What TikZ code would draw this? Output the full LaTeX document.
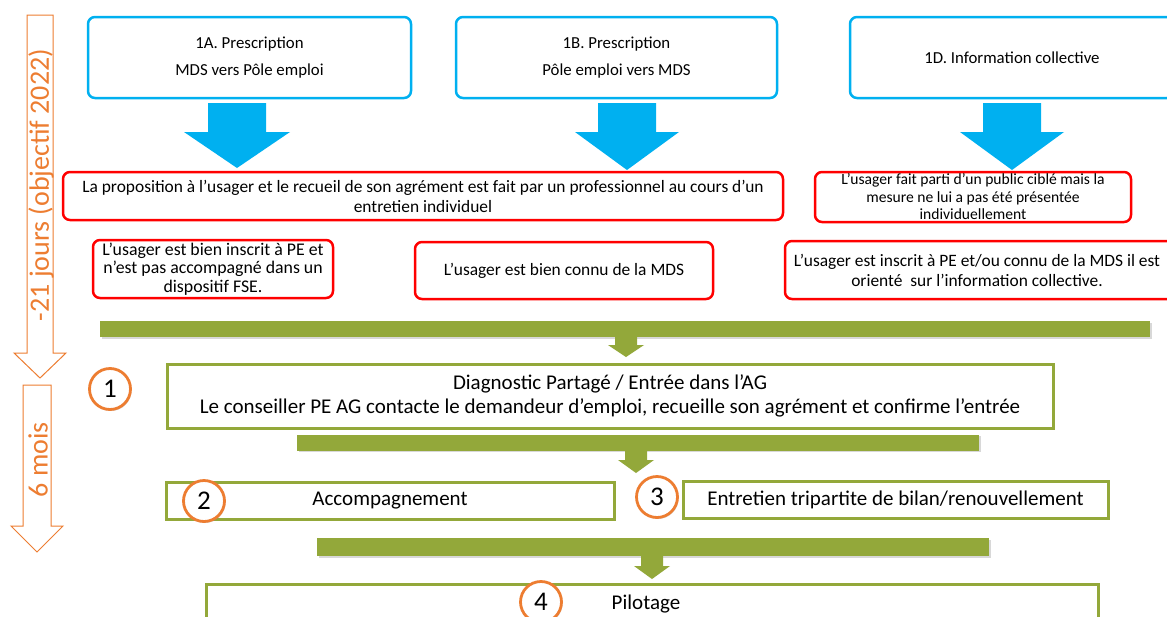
\documentclass[tikz,border=0pt]{standalone}
\usepackage{fontspec}
\setmainfont{Carlito}
\usetikzlibrary{shadows}
\definecolor{ablue}{HTML}{00B0F0}
\definecolor{ared}{HTML}{FF0000}
\definecolor{aorange}{HTML}{ED7D31}
\definecolor{agreen}{HTML}{93A83A}
\begin{document}
\begin{tikzpicture}[x=1pt,y=-1pt,
  bluebox/.style={draw=ablue, line width=2.5pt, rounded corners=7pt, fill=white, align=center, inner sep=0pt},
  redbox/.style={draw=ared, line width=2.5pt, rounded corners=7pt, fill=white, align=center, inner sep=0pt},
  greenbox/.style={draw=agreen, line width=3pt, fill=white, align=center, inner sep=0pt,
    drop shadow={opacity=0.3, shadow xshift=1.5pt, shadow yshift=-1.5pt}},
  greenbar/.style={fill=agreen, inner sep=0pt,
    drop shadow={opacity=0.3, shadow xshift=1.5pt, shadow yshift=-1.5pt}},
  bluearrow/.style={fill=ablue},
  greenarrow/.style={fill=agreen},
  timearrow/.style={draw=aorange, line width=1pt, fill=white},
  timetext/.style={text=aorange, font=\fontsize{28}{30}\selectfont, rotate=90},
  numcircle/.style={circle, draw=aorange, line width=2.8pt, fill=white, minimum size=41pt, inner sep=0pt,
    font=\fontsize{27}{27}\selectfont, drop shadow={opacity=0.3, shadow xshift=1pt, shadow yshift=-1.5pt}},
  topfont/.style={font=\fontsize{16.8}{27}\selectfont},
  redfont/.style={font=\fontsize{17.4}{20}\selectfont},
  redfontb/.style={font=\fontsize{17.8}{18.5}\selectfont},
  smallred/.style={font=\fontsize{15.6}{17.5}\selectfont},
  greenfont/.style={font=\fontsize{21}{24}\selectfont},
]
\clip (0,0) rectangle (1167,616);
\fill[white] (0,0) rectangle (1167,616);

% time arrows
\draw[timearrow] (27,15) -- (53,15) -- (53,353) -- (66,353) -- (40,378) -- (14,353) -- (27,353) -- cycle;
\node[timetext] (t1) at (41,185) {-21 jours (objectif 2022)};
\draw[timearrow] (23,385) -- (51,385) -- (51,526) -- (63,526) -- (37,552) -- (11,526) -- (23,526) -- cycle;
\node[timetext] (t2) at (38,460) {6 mois};

% top blue boxes
\node[bluebox, topfont, minimum width=323pt, minimum height=81pt] (b1a) at (249.5,57.5) {1A. Prescription\\MDS vers Pôle emploi};
\node[bluebox, topfont, minimum width=321pt, minimum height=81pt] (b1b) at (616.5,57.5) {1B. Prescription\\Pôle emploi vers MDS};
\node[bluebox, topfont, minimum width=324pt, minimum height=81pt] (b1d) at (1012,57.5) {1D. Information collective};

% blue block arrows
\fill[bluearrow] (208,103) -- (266,103) -- (266,132) -- (290,132) -- (237,168) -- (184,132) -- (208,132) -- cycle;
\fill[bluearrow] (598,103) -- (656,103) -- (656,132) -- (679,132) -- (627,170) -- (575,132) -- (598,132) -- cycle;
\fill[bluearrow] (983,103) -- (1041,103) -- (1041,132) -- (1064,132) -- (1012,170) -- (960,132) -- (983,132) -- cycle;

% red boxes
\node[redbox, redfont, minimum width=720pt, minimum height=48pt] (r1) at (423,196)
  {La proposition à l’usager et le recueil de son agrément est fait par un professionnel au cours d’un\\entretien individuel};
\node[redbox, smallred, minimum width=316pt, minimum height=50pt] (r2) at (973,197)
  {L’usager fait parti d’un public ciblé mais la\\mesure ne lui a pas été présentée\\individuellement};
\node[redbox, redfontb, minimum width=240pt, minimum height=58pt] (r3) at (213,269)
  {L’usager est bien inscrit à PE et\\n’est pas accompagné dans un\\dispositif FSE.};
\node[redbox, redfont, minimum width=298pt, minimum height=57pt] (r4) at (564,270.5)
  {L’usager est bien connu de la MDS};
\node[redbox, minimum width=390pt, minimum height=58pt] (r5) at (980,270) {};
\node[redfont, align=center] (r5t) at (977,270)
  {L’usager est inscrit à PE et/ou connu de la MDS il est\\orienté\ \ sur l’information collective.};

% green bars, arrows and boxes
\node[greenbar, minimum width=1050pt, minimum height=16pt] (bar1) at (625,329) {};
\fill[greenarrow] (615,337) -- (637,337) -- (637,345) -- (644,345) -- (626,357) -- (608,345) -- (615,345) -- cycle;
\node[greenbox, greenfont, minimum width=886pt, minimum height=64pt] (diag) at (610,396)
  {Diagnostic Partagé / Entrée dans l’AG\\Le conseiller PE AG contacte le demandeur d’emploi, recueille son agrément et confirme l’entrée};

\node[greenbar, minimum width=682pt, minimum height=16pt] (bar2) at (638,442.5) {};
\fill[greenarrow] (625,450) -- (647,450) -- (647,460) -- (654,460) -- (636,473) -- (618,460) -- (625,460) -- cycle;
\node[greenbox, greenfont, minimum width=448pt, minimum height=37pt] (acc) at (390,500.5) {Accompagnement};
\node[greenbox, greenfont, minimum width=425pt, minimum height=37pt] (ent) at (895.5,499.5) {Entretien tripartite de bilan/renouvellement};

\node[greenbar, minimum width=672pt, minimum height=18pt] (bar3) at (653,547) {};
\fill[greenarrow] (641,556) -- (663,556) -- (663,566) -- (670,566) -- (652,579) -- (634,566) -- (641,566) -- cycle;
\node[greenbox, minimum width=892pt, minimum height=48pt] (pil) at (652,608) {};
\node[greenfont] (pilt) at (646,604) {Pilotage};

% numbered circles
\node[numcircle] (c1) at (110,389) {1};
\node[numcircle] (c2) at (204,501) {2};
\node[numcircle] (c3) at (657,497) {3};
\node[numcircle] (c4) at (541,602) {4};
\end{tikzpicture}
\end{document}
